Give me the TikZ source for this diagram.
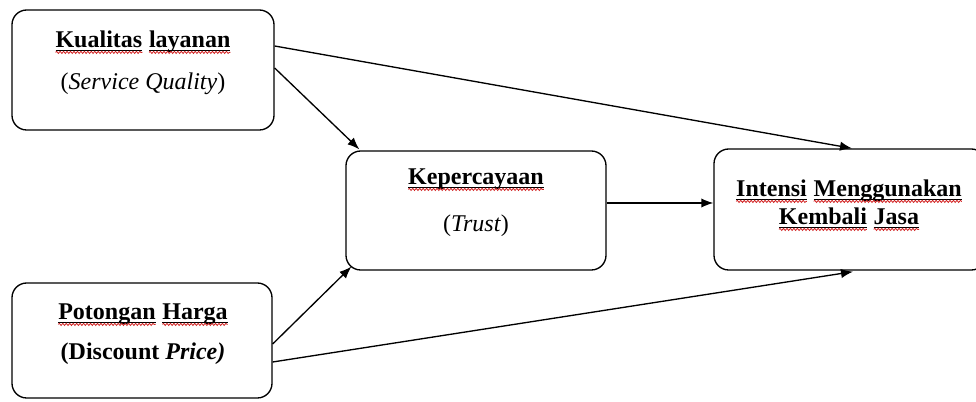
\documentclass[tikz,border=0pt]{standalone}
\usepackage{fontspec}
\setmainfont{Liberation Serif}
\usetikzlibrary{arrows.meta,decorations.pathmorphing}

\definecolor{wavered}{RGB}{210,35,35}

\tikzset{
  wavy/.style={draw=wavered, line width=0.6pt, decorate,
    decoration={snake, amplitude=0.8pt, segment length=2.6pt}},
  roundbox/.style={draw, line width=1pt, rounded corners=11pt, inner sep=0pt},
  txt/.style={anchor=base, inner sep=0pt, font=\fontsize{18}{21}\selectfont},
  link/.style={line width=1pt, -{Latex[length=9pt,width=7pt]}}
}

% an underlined word with a red wavy line beneath it
\newcommand\spw[1]{\tikz[baseline=(sw.base)]{%
  \node[inner sep=0pt, outer sep=0pt] (sw) {#1};
  \draw[line width=0.55pt] ([yshift=-1.5pt]sw.base west) -- ([yshift=-1.5pt]sw.base east);
  \draw[wavy] ([yshift=-3.3pt]sw.base west) -- ([yshift=-3.3pt]sw.base east);}}

\begin{document}
\begin{tikzpicture}[x=0.75pt, y=-0.75pt]
  \fill[white] (0,0) rectangle (976,402);
  \useasboundingbox (0,0) rectangle (976,402);
  \clip (0,0) rectangle (976,402);

  % boxes
  \node[roundbox, minimum width=262*0.75pt, minimum height=120*0.75pt] (b1) at (143,70) {};
  \node[roundbox, minimum width=260*0.75pt, minimum height=115*0.75pt] (b2) at (142,340.5) {};
  \node[roundbox, minimum width=260*0.75pt, minimum height=119*0.75pt] (b3) at (476,210.5) {};
  \node[roundbox, minimum width=272*0.75pt, minimum height=121*0.75pt] (b4) at (850,209.5) {};

  % labels
  \node[txt] (t1a) at (143,48) {\bfseries\spw{Kualitas} \spw{layanan}};
  \node[txt] (t1b) at (143,90) {(\textit{Service Quality})};
  \node[txt] (t2a) at (143,320) {\bfseries\spw{Potongan} \spw{Harga}};
  \node[txt] (t2b) at (143,360) {\bfseries(Discount \textit{Price)}};
  \node[txt] (t3a) at (476,185) {\bfseries\spw{Kepercayaan}};
  \node[txt] (t3b) at (476,232) {(\textit{Trust})};
  \node[txt] (t4a) at (849,197) {\bfseries\spw{Intensi} \spw{Menggunakan}};
  \node[txt] (t4b) at (849,225) {\bfseries\spw{Kembali} \spw{Jasa}};

  % connectors
  \draw[link] ([shift={(0,-24)}]b1.east) -- ([shift={(2,0)}]b4.north);
  \draw[link] ([shift={(0,-2)}]b1.east) -- ([shift={(14,-1)}]b3.north west);
  \draw[link] ([shift={(0,3.5)}]b2.east) -- ([shift={(6,-4)}]b3.south west);
  \draw[link] ([shift={(0,21.5)}]b2.east) -- ([shift={(3,1)}]b4.south);
  \draw[link] ([shift={(0,-7.5)}]b3.east) -- ([shift={(0,-6.5)}]b4.west);
\end{tikzpicture}
\end{document}
